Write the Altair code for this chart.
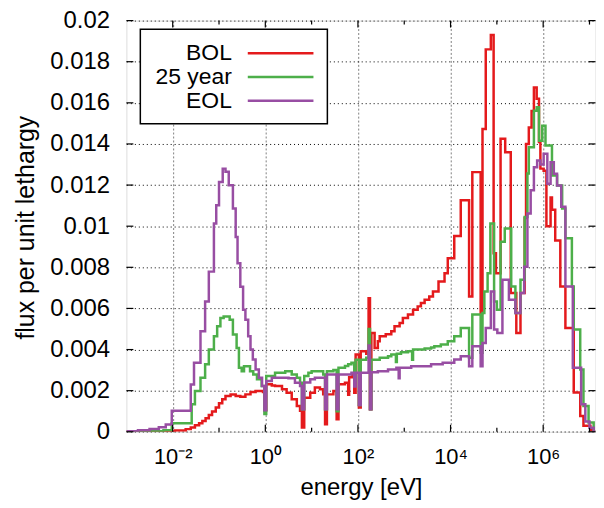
import altair as alt
import pandas as pd

# ---------------- data ----------------
series_names = ["BOL", "25 year", "EOL"]
series_colors = ["#e41a1c", "#4daf4a", "#984ea3"]

# lower bin edges as log10(E / eV), and flux per unit lethargy of each bin
bol_log10_e = [-3.00, -2.30, -1.95, -1.72, -1.61, -1.52, -1.43, -1.36, -1.29, -1.22,
               -1.15, -1.07, -1.00, -0.93, -0.86, -0.75, -0.64, -0.54, -0.43, -0.32,
               -0.21, -0.05, -0.02, 0.02, 0.14, 0.21, 0.36, 0.46, 0.57, 0.68,
               0.75, 0.79, 0.84, 0.97, 1.07, 1.18, 1.25, 1.29, 1.33, 1.47,
               1.54, 1.58, 1.72, 1.79, 1.81, 1.88, 1.92, 1.95, 2.02, 2.06,
               2.18, 2.23, 2.26, 2.29, 2.36, 2.43, 2.47, 2.60, 2.72, 2.79,
               2.90, 2.97, 3.08, 3.19, 3.29, 3.36, 3.44, 3.54, 3.62, 3.74,
               3.87, 3.94, 4.08, 4.22, 4.40, 4.47, 4.65, 4.69, 4.76, 4.87,
               4.93, 4.98, 5.08, 5.18, 5.30, 5.42, 5.51, 5.60, 5.63, 5.69,
               5.75, 5.80, 5.86, 5.91, 5.94, 6.01, 6.07, 6.16, 6.19, 6.26,
               6.37, 6.48, 6.66, 6.80, 6.87, 7.02, 7.09, 7.13]
bol_flux = [0.0, 0.00002, 0.00006, 0.00013, 0.00021, 0.00032, 0.00042, 0.00053, 0.00066, 0.00082,
            0.00099, 0.00118, 0.00139, 0.00158, 0.00174, 0.00181, 0.00174, 0.00171, 0.00182, 0.00194,
            0.00198, 0.00194, 0.00105, 0.00231, 0.00225, 0.00223, 0.00207, 0.00190, 0.00158, 0.00126,
            0.00102, 0.00021, 0.00166, 0.00190, 0.00215, 0.00207, 0.00182, 0.00037, 0.00182, 0.00198,
            0.00061, 0.00231, 0.00239, 0.00180, 0.00265, 0.00285, 0.00190, 0.00376, 0.00118, 0.00392,
            0.00380, 0.00650, 0.00110, 0.00481, 0.00408, 0.00440, 0.00465, 0.00475, 0.00489, 0.00513,
            0.00529, 0.00554, 0.00570, 0.00594, 0.00610, 0.00626, 0.00642, 0.00658, 0.00682, 0.00731,
            0.00771, 0.00844, 0.00952, 0.01126, 0.00658, 0.01263, 0.00578, 0.01473, 0.01860, 0.01930,
            0.00868, 0.00771, 0.01425, 0.01360, 0.00675, 0.00481, 0.00675, 0.01040, 0.01400, 0.01480,
            0.01560, 0.01674, 0.01620, 0.01410, 0.01280, 0.01270, 0.01000, 0.01140, 0.01080, 0.00930,
            0.00707, 0.00505, 0.00191, 0.00077, 0.00029, 0.00008, 0.0, 0.0]

yr25_log10_e = [-3.00, -2.50, -2.20, -2.02, -1.59, -1.52, -1.40, -1.30, -1.22, -1.11,
                -1.04, -0.97, -0.90, -0.77, -0.70, -0.62, -0.57, -0.51, -0.46, -0.33,
                -0.26, -0.18, -0.08, -0.02, 0.02, 0.21, 0.43, 0.57, 0.68, 0.75,
                0.79, 0.84, 0.93, 1.00, 1.25, 1.29, 1.33, 1.47, 1.54, 1.58,
                1.72, 1.79, 1.86, 1.92, 1.95, 2.02, 2.06, 2.18, 2.23, 2.26,
                2.29, 2.47, 2.65, 2.72, 2.82, 2.84, 2.93, 3.08, 3.17, 3.19,
                3.44, 3.58, 3.65, 3.79, 3.94, 4.08, 4.22, 4.40, 4.47, 4.65,
                4.69, 4.73, 4.80, 4.86, 4.94, 5.00, 5.08, 5.17, 5.31, 5.40,
                5.51, 5.60, 5.66, 5.69, 5.80, 5.86, 5.91, 5.98, 6.05, 6.19,
                6.30, 6.41, 6.48, 6.62, 6.66, 6.80, 6.87, 6.98, 7.09, 7.13]
yr25_flux = [0.0, 0.00003, 0.00008, 0.00042, 0.00134, 0.00198, 0.00263, 0.00328, 0.00400, 0.00465,
             0.00513, 0.00554, 0.00561, 0.00545, 0.00473, 0.00408, 0.00312, 0.00295, 0.00319, 0.00295,
             0.00279, 0.00255, 0.00223, 0.00086, 0.00271, 0.00287, 0.00295, 0.00279, 0.00263, 0.00239,
             0.00110, 0.00271, 0.00287, 0.00295, 0.00279, 0.00110, 0.00295, 0.00300, 0.00100, 0.00312,
             0.00320, 0.00328, 0.00336, 0.00250, 0.00350, 0.00130, 0.00350, 0.00360, 0.00500, 0.00110,
             0.00350, 0.00360, 0.00368, 0.00376, 0.00340, 0.00380, 0.00387, 0.00392, 0.00350, 0.00400,
             0.00405, 0.00410, 0.00416, 0.00424, 0.00440, 0.00465, 0.00505, 0.00360, 0.00570, 0.00384,
             0.00578, 0.00682, 0.00771, 0.01013, 0.00634, 0.00594, 0.00924, 0.00989, 0.00707, 0.00578,
             0.00739, 0.01045, 0.01256, 0.01384, 0.01562, 0.01578, 0.01416, 0.01489, 0.01392, 0.01247,
             0.01198, 0.01086, 0.00941, 0.00707, 0.00497, 0.00303, 0.00126, 0.00045, 0.0, 0.0]

eol_log10_e = [-3.00, -2.75, -2.50, -2.30, -2.15, -2.02, -1.61, -1.54, -1.40, -1.30,
               -1.22, -1.11, -1.06, -1.00, -0.92, -0.86, -0.79, -0.70, -0.64, -0.60,
               -0.54, -0.48, -0.43, -0.37, -0.32, -0.27, -0.21, -0.14, -0.07, -0.02,
               0.02, 0.14, 0.50, 0.64, 0.75, 0.79, 0.84, 0.97, 1.07, 1.29,
               1.33, 1.54, 1.58, 1.86, 1.92, 1.95, 2.02, 2.06, 2.23, 2.26,
               2.29, 2.43, 2.65, 2.83, 2.88, 2.90, 3.15, 3.58, 3.83, 4.08,
               4.22, 4.40, 4.47, 4.65, 4.69, 4.76, 4.87, 4.94, 5.01, 5.12,
               5.26, 5.40, 5.51, 5.59, 5.66, 5.73, 5.80, 5.87, 5.94, 6.01,
               6.09, 6.16, 6.23, 6.30, 6.39, 6.48, 6.64, 6.82, 6.91, 7.00,
               7.09, 7.13]
eol_flux = [0.00003, 0.00008, 0.00014, 0.00022, 0.00035, 0.00102, 0.00230, 0.00336, 0.00489, 0.00634,
            0.00779, 0.01013, 0.01102, 0.01215, 0.01280, 0.01265, 0.01199, 0.01086, 0.00948, 0.00820,
            0.00706, 0.00594, 0.00545, 0.00465, 0.00400, 0.00352, 0.00303, 0.00263, 0.00223, 0.00105,
            0.00247, 0.00263, 0.00260, 0.00239, 0.00223, 0.00110, 0.00240, 0.00255, 0.00263, 0.00110,
            0.00279, 0.00110, 0.00279, 0.00287, 0.00220, 0.00287, 0.00130, 0.00287, 0.00420, 0.00110,
            0.00290, 0.00295, 0.00303, 0.00312, 0.00260, 0.00312, 0.00319, 0.00328, 0.00336, 0.00352,
            0.00368, 0.00319, 0.00416, 0.00319, 0.00432, 0.00505, 0.00682, 0.00497, 0.00481, 0.00739,
            0.00642, 0.00578, 0.00675, 0.00803, 0.01062, 0.01175, 0.01287, 0.01320, 0.01300, 0.01352,
            0.01207, 0.01311, 0.01255, 0.01198, 0.01094, 0.00707, 0.00312, 0.00134, 0.00050, 0.00020,
            0.0, 0.0]

y_ticks = [0, 0.002, 0.004, 0.006, 0.008, 0.01, 0.012, 0.014, 0.016, 0.018, 0.02]
x_label_decades = [-2, 0, 2, 4, 6]
x_minor_decades = [-1, 1, 3, 5, 7]
x_domain_log10 = [-3.0, 7.13]

# ---------------- build tables ----------------
rows = []
for name, lg, fl in zip(series_names,
                        [bol_log10_e, yr25_log10_e, eol_log10_e],
                        [bol_flux, yr25_flux, eol_flux]):
    for a, b in zip(lg, fl):
        rows.append({"energy": 10 ** a, "flux": b, "series": name})
df = pd.DataFrame(rows)

sup = str.maketrans("-0123456789", "⁻⁰¹²³⁴⁵⁶⁷⁸⁹")
label_texts = ["10" + str(d).translate(sup) for d in x_label_decades]
label_expr = " : ".join(
    [f"abs(log(datum.value)/LN10 - ({d})) < 0.01 ? '{t}'" for d, t in zip(x_label_decades, label_texts)]
) + " : ''"

W, H = 471.5, 413.3
FONT = "Liberation Sans"

x_scale = alt.Scale(type="log", domain=[10 ** x_domain_log10[0], 10 ** x_domain_log10[1]], nice=False)
y_scale = alt.Scale(domain=[0, 0.02], nice=False, zero=True)
color_scale = alt.Scale(domain=series_names, range=series_colors)

x_axis = alt.Axis(values=[10.0 ** d for d in x_label_decades], labelExpr=label_expr, grid=True,
                  gridColor="#808080", gridDash=[2, 2], gridWidth=1, ticks=False,
                  domain=False, labelFont=FONT, labelFontSize=22, labelColor="black",
                  labelPadding=15, labelFlush=False, title="energy [eV]", titleFont=FONT,
                  titleFontSize=24, titleFontWeight="normal", titleColor="black",
                  titleY=62.8, titleBaseline="alphabetic")
y_axis = alt.Axis(values=y_ticks, format="~g", grid=True, gridColor="black", gridDash=[1, 3],
                  gridWidth=1, ticks=False, domain=False, labelFont=FONT,
                  labelFontSize=24, labelColor="black", labelPadding=17,
                  title="flux per unit lethargy", titleFont=FONT, titleFontSize=25,
                  titleFontWeight="normal", titleColor="black", titleAngle=270,
                  titleX=-93, titleY=H / 2 + 1, titleBaseline="alphabetic", titleAlign="center")

main_layers = []
for name in series_names:
    main_layers.append(
        alt.Chart(df).transform_filter(alt.datum.series == name)
        .mark_line(interpolate="step-after", strokeWidth=2.5, clip=True)
        .encode(x=alt.X("energy:Q", scale=x_scale, axis=x_axis),
                y=alt.Y("flux:Q", scale=y_scale, axis=y_axis),
                color=alt.Color("series:N", scale=color_scale, legend=None))
    )

ydf = pd.DataFrame({"flux": y_ticks})
for x0, x1 in [(0, 7), (W - 7, W)]:
    main_layers.append(alt.Chart(ydf).mark_rule(color="black", strokeWidth=1.2).encode(
        y=alt.Y("flux:Q", scale=y_scale, axis=y_axis), x=alt.value(x0), x2=alt.value(x1)))

for decs, ln in [(x_label_decades, 7), (x_minor_decades, 4)]:
    xdf = pd.DataFrame({"energy": [10.0 ** d for d in decs]})
    for y0, y1 in [(H, H - ln), (0, ln)]:
        main_layers.append(alt.Chart(xdf).mark_rule(color="black", strokeWidth=1.2).encode(
            x=alt.X("energy:Q", scale=x_scale, axis=x_axis), y=alt.value(y0), y2=alt.value(y1)))

main = alt.layer(*main_layers)

# ---------------- legend (box, line samples, right-aligned labels) ----------------
leg_df = pd.DataFrame({"series": series_names})
leg_y = alt.Y("series:N", axis=None,
              scale=alt.Scale(type="point", domain=series_names, range=[32.9, 80.6], padding=0))
leg_box = alt.Chart(pd.DataFrame({"k": [0]})).mark_rect(
    fill="white", stroke="black", strokeWidth=1.5).encode(
    x=alt.value(14), x2=alt.value(202), y=alt.value(8.6), y2=alt.value(103.6))
leg_lines = alt.Chart(leg_df).mark_rule(strokeWidth=2.5).encode(
    y=leg_y, x=alt.value(122), x2=alt.value(188),
    color=alt.Color("series:N", scale=color_scale, legend=None))
leg_text = alt.Chart(leg_df).mark_text(
    align="right", baseline="middle", font=FONT, fontSize=23, color="black").encode(
    y=leg_y, x=alt.value(106), text="series:N")
legend = alt.layer(leg_box, leg_lines, leg_text)

chart = alt.layer(main, legend).resolve_scale(y="independent").properties(
    width=W, height=H,
    autosize=alt.AutoSizeParams(type="none"),
    padding={"left": 119, "top": 11.4, "right": 0.5, "bottom": 67.3},
).configure_view(stroke="black", strokeWidth=1.5).configure(background="white")

chart.save("out.html", embed_options={"renderer": "svg", "actions": False})
